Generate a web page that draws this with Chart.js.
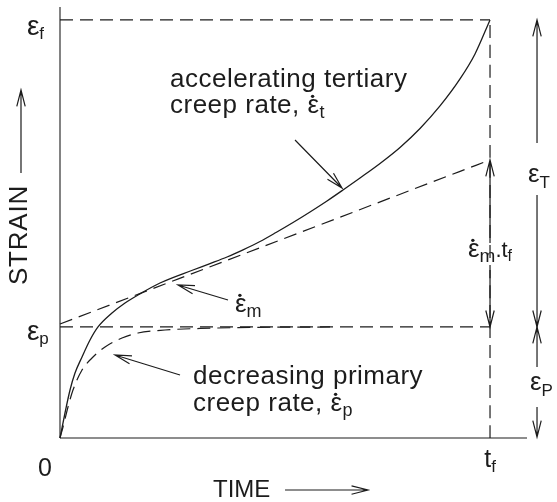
<!DOCTYPE html>
<html>
<head>
<meta charset="utf-8">
<script src="https://cdn.jsdelivr.net/npm/chart.js@4.4.1/dist/chart.umd.min.js"></script>
<style>
  html, body { margin: 0; background: #fff; }
  canvas { display: block; }
</style>
</head>
<body>
<canvas id="creep" width="557" height="502"></canvas>
<script>
(() => {
  'use strict';

  // time is in units of t_f, strain in units of eps_f
  const T_F = 1;
  const EPS_F = 1;
  const EPS_P = 0.2656;

  const creepTime   = [0, 0.0116, 0.0233, 0.0349, 0.0512, 0.0698, 0.0884, 0.1209, 0.1512, 0.1814, 0.2326, 0.3093, 0.3488, 0.3884, 0.4256, 0.4651, 0.5023, 0.5419, 0.5814, 0.6209, 0.6581, 0.6977, 0.7442, 0.7907, 0.8372, 0.8837, 0.9302, 0.9651, 1];
  const creepStrain = [0, 0.0598, 0.1148, 0.1555, 0.1938, 0.2344, 0.2656, 0.2990, 0.3230, 0.3421, 0.3708, 0.4019, 0.4172, 0.4330, 0.4502, 0.4701, 0.4916, 0.5155, 0.5407, 0.5670, 0.5933, 0.6220, 0.6567, 0.6950, 0.7404, 0.7943, 0.8589, 0.9187, 1];

  const primaryTime   = [0, 0.007, 0.0186, 0.0302, 0.0512, 0.0744, 0.1047, 0.1442, 0.1814, 0.2442, 0.3256, 0.4419, 0.6279];
  const primaryStrain = [0, 0.0263, 0.0742, 0.1148, 0.1627, 0.1914, 0.2177, 0.2392, 0.2512, 0.2584, 0.2620, 0.2644, 0.2656];

  const tangentTime   = [0, T_F];
  const tangentStrain = [0.2727, 0.6651];

  const X_MAX = 1.086;
  const Y_MAX = 1.031;

  const INK = '#1c1c1c';
  const FONT = '"Liberation Sans", Arial, sans-serif';

  const pts = (xs, ys) => xs.map((v, i) => ({ x: v, y: ys[i] }));

  function line(data, dashed, width) {
    return {
      data, showLine: true, pointRadius: 0, borderColor: INK,
      borderWidth: width || 1.2, borderDash: dashed ? [13, 7] : [],
      cubicInterpolationMode: 'monotone', fill: false, clip: false,
    };
  }

  // arrows as [tailT, tailStrain, tipT, tipStrain]
  const arrows = [
    [0.5465, 0.7129, 0.6558, 0.5981],
    [0.3907, 0.3301, 0.2744, 0.3660],
    [0.2791, 0.1507, 0.1279, 0.1986],
    [1, 0.4665, 1, 0.6651],
    [1, 0.4019, 1, EPS_P],
    [1.1093, 0.7057, 1.1093, EPS_F],
    [1.1093, 0.5813, 1.1093, EPS_P],
    [1.1093, 0.1699, 1.1093, EPS_P],
    [1.1093, 0.0742, 1.1093, 0.002],
    [-0.0907, 0.634, -0.0907, 0.8325],
    [0.5233, -0.1244, 0.7163, -0.1244],
  ];

  // rich labels: parts are [text, size, shift, dot]
  const labels = [
    { at: [-0.077, 0.964], parts: [['ε', 28], ['f', 17, 4]] },
    { at: [-0.077, 0.2344], parts: [['ε', 28], ['p', 17, 4]] },
    { at: [-0.035, -0.0909], align: 'center', parts: [['0', 25]] },
    { at: [1, -0.0694], align: 'center', parts: [['t', 25], ['f', 17, 5]] },
    { at: [0.3558, -0.1411], parts: [['TIME', 24]] },
    { at: [0.2558, 0.8397], spacing: 0.5, parts: [['accelerating tertiary', 26]] },
    { at: [0.2558, 0.7775], spacing: 0.5, parts: [['creep rate, ', 26], ['ε', 26, 0, true], ['t', 18, 5]] },
    { at: [0.407, 0.3014], parts: [['ε', 26, 0, true], ['m', 18, 5]] },
    { at: [0.3093, 0.1292], spacing: 0.5, parts: [['decreasing primary', 26]] },
    { at: [0.3093, 0.0646], spacing: 0.5, parts: [['creep rate, ', 26], ['ε', 26, 0, true], ['p', 18, 5]] },
    { at: [1, 0.433], align: 'center', parts: [['ε', 26, 0, true], ['m', 19, 5], ['.', 22], ['t', 22], ['f', 16, 4]] },
    { at: [1.0884, 0.6124], parts: [['ε', 26], ['T', 17, 6]] },
    { at: [1.093, 0.1148], parts: [['ε', 26], ['P', 17, 6]] },
  ];

  function arrow(ctx, x1, y1, x2, y2) {
    const a = Math.atan2(y2 - y1, x2 - x1), len = 17, spread = 0.25;
    ctx.beginPath();
    ctx.moveTo(x1, y1); ctx.lineTo(x2, y2);
    ctx.moveTo(x2 - len * Math.cos(a - spread), y2 - len * Math.sin(a - spread));
    ctx.lineTo(x2, y2);
    ctx.lineTo(x2 - len * Math.cos(a + spread), y2 - len * Math.sin(a + spread));
    ctx.stroke();
  }

  function rich(ctx, x, y, parts, align, spacing) {
    ctx.letterSpacing = (spacing || 0) + 'px';
    const widths = parts.map(([t, s]) => { ctx.font = `${s}px ${FONT}`; return ctx.measureText(t).width; });
    let cx = align === 'center' ? x - widths.reduce((a, b) => a + b, 0) / 2 : x;
    parts.forEach(([t, s, shift, dot], i) => {
      ctx.font = `${s}px ${FONT}`;
      ctx.fillText(t, cx, y + (shift || 0));
      if (dot) {
        ctx.beginPath();
        ctx.arc(cx + widths[i] * 0.42, y - s * 0.64, 1.7, 0, Math.PI * 2);
        ctx.fill();
      }
      cx += widths[i];
    });
    ctx.letterSpacing = '0px';
  }

  const annotate = {
    id: 'annotate',
    afterDatasetsDraw(chart) {
      const { ctx, scales: { x, y } } = chart;
      const px = v => x.getPixelForValue(v), py = v => y.getPixelForValue(v);
      ctx.save();
      ctx.strokeStyle = INK; ctx.fillStyle = INK; ctx.lineWidth = 1.2;
      ctx.textBaseline = 'alphabetic'; ctx.textAlign = 'left';
      arrows.forEach(([a, b, c, d]) => arrow(ctx, px(a), py(b), px(c), py(d)));
      labels.forEach(l => rich(ctx, px(l.at[0]), py(l.at[1]), l.parts, l.align, l.spacing));

      // rotated axis title
      ctx.translate(px(-0.093), py(0.4856));
      ctx.rotate(-Math.PI / 2);
      ctx.font = `26px ${FONT}`;
      ctx.letterSpacing = '0.8px';
      ctx.textAlign = 'center'; ctx.textBaseline = 'middle';
      ctx.fillText('STRAIN', 0, 0);
      ctx.restore();
    },
  };

  new Chart(document.getElementById('creep'), {
    type: 'scatter',
    data: {
      datasets: [
        line(pts([0, 0], [0, Y_MAX]), false, 1.1),
        line(pts([0, X_MAX], [0, 0]), false, 1.1),
        line(pts(creepTime, creepStrain), false, 1.3),
        line(pts(primaryTime, primaryStrain), true),
        line(pts(tangentTime, tangentStrain), true),
        line(pts([0, T_F], [EPS_F, EPS_F]), true),
        line(pts([0, T_F], [EPS_P, EPS_P]), true),
        line(pts([T_F, T_F], [0, EPS_F]), true),
      ],
    },
    options: {
      responsive: false,
      animation: false,
      events: [],
      layout: { padding: { left: 60, right: 30, top: 7, bottom: 64 } },
      plugins: { legend: { display: false }, tooltip: { enabled: false } },
      scales: {
        x: { type: 'linear', display: false, min: 0, max: X_MAX },
        y: { type: 'linear', display: false, min: 0, max: Y_MAX },
      },
    },
    plugins: [annotate],
  });
})();
</script>
</body>
</html>
